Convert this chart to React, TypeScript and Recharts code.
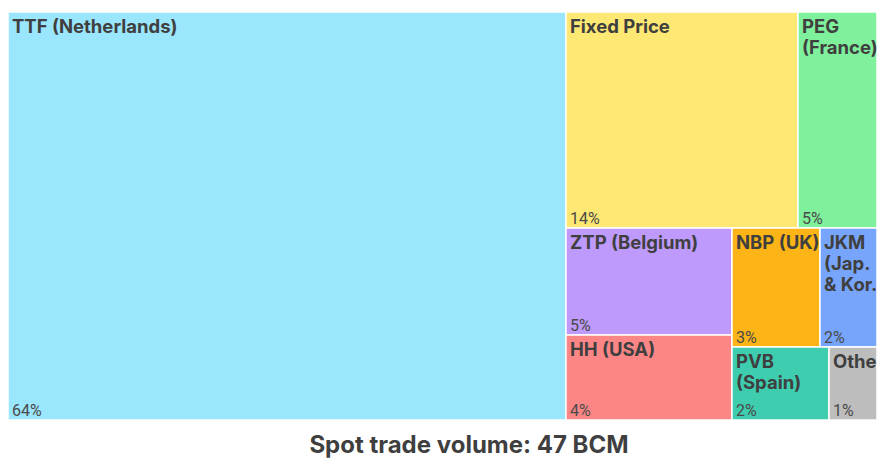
import React from "react"
import { Treemap } from "recharts"

// spot trade volume share by hub, % of 47 BCM
const hubs = ["TTF (Netherlands)", "Fixed Price", "PEG (France)", "ZTP (Belgium)", "HH (USA)", "NBP (UK)", "JKM (Jap. &\u00a0Kor.)", "PVB (Spain)", "Other"]
const shares = [64.2, 14.1, 4.8, 5.0, 4.0, 2.96, 1.9, 2.0, 0.94]
const hubColors = ["#9ae6fc", "#fde874", "#7ff09c", "#bd9afb", "#fc8686", "#fdb416", "#77a5fb", "#3ecdaf", "#bdbdbd"]
const title = "Spot trade volume: 47 BCM"

const total = shares.reduce((a, b) => a + b, 0)
const data = hubs.map((name, i) => ({ name, value: shares[i], color: hubColors[i] }))

const LABEL_SIZE = 18.5
const LABEL_FONT = `bold ${LABEL_SIZE}px Inter`
let ctx: CanvasRenderingContext2D | null = null
function textWidth(s: string) {
    if (!ctx) ctx = document.createElement("canvas").getContext("2d")
    if (!ctx) return s.length * 10
    ctx.font = LABEL_FONT
    return ctx.measureText(s).width
}

function wrap(label: string, maxW: number) {
    const words = label.split(" ")
    const lines: string[] = []
    let cur = ""
    for (const w of words) {
        const next = cur ? cur + " " + w : w
        if (cur && textWidth(next) > maxW) {
            lines.push(cur)
            cur = w
        } else {
            cur = next
        }
    }
    if (cur) lines.push(cur)
    return lines
}

function HubCell(props: any) {
    const { x, y, width, height, depth, name, value, color } = props
    if (depth !== 1) return null
    const lines = wrap(name, width - 2)
    const clipId = "clip-" + props.index
    return (
        <g>
            <defs>
                <clipPath id={clipId}>
                    <rect x={x} y={y} width={width} height={height} />
                </clipPath>
            </defs>
            <rect x={x} y={y} width={width} height={height} fill={color} stroke="#fff" strokeWidth={1.5} />
            <g clipPath={`url(#${clipId})`}>
                <text x={x + 4} y={y + 21} fill="#3f3f3f" fontFamily="Inter" fontWeight={700} fontSize={LABEL_SIZE}>
                    {lines.map((l, i) => (
                        <tspan key={i} x={x + 4} dy={i === 0 ? 0 : 21}>{l}</tspan>
                    ))}
                </text>
                <text x={x + 4} y={y + height - 4} fill="#4a4a4a" fontFamily="Roboto" fontSize={16}>
                    {Math.round((value / total) * 100)}%
                </text>
            </g>
        </g>
    )
}

export default function App() {
    return (
        <div style={{ position: "fixed", left: 0, top: 0, width: 877, height: 460, overflow: "hidden", background: "#fff" }}>
            <div style={{ position: "absolute", left: 8, top: 12 }}>
                <Treemap
                    width={869}
                    height={408}
                    data={data}
                    dataKey="value"
                    nameKey="name"
                    isAnimationActive={false}
                    content={<HubCell />}
                />
            </div>
            <svg width={877} height={40} style={{ position: "absolute", left: 0, top: 420 }}>
                <text x={469} y={33} textAnchor="middle" fill="#3f3f3f" fontFamily="Inter" fontWeight={700} fontSize={24}>
                    {title}
                </text>
            </svg>
        </div>
    )
}
